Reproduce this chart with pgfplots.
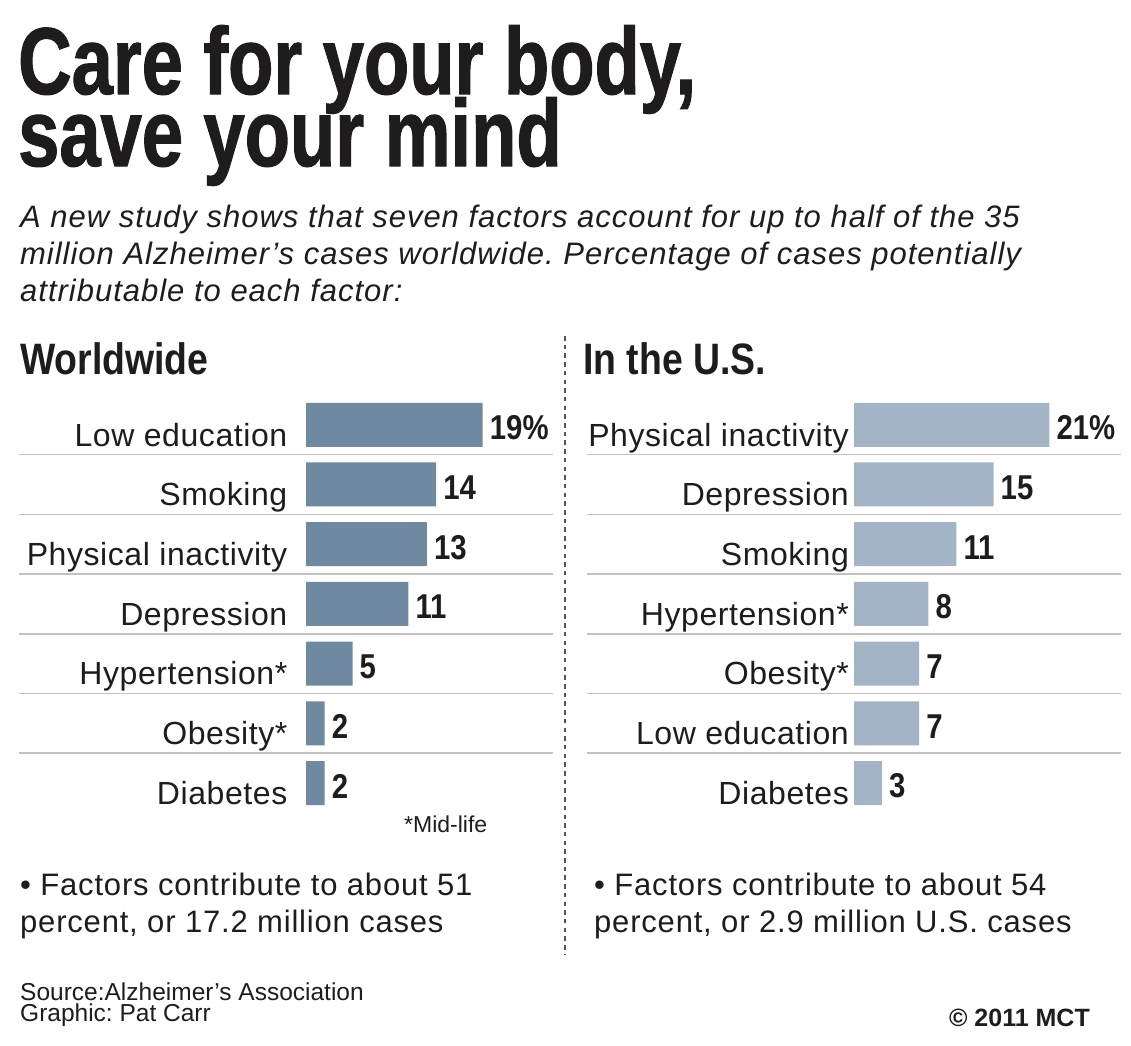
\documentclass[border=0pt]{standalone}
\usepackage{fontspec}
\setmainfont{Liberation Sans}
\newfontfamily\titlefont{Liberation Sans Bold}[FakeStretch=0.78,FakeBold=1.2]
\newfontfamily\condfont{Liberation Sans Bold}[FakeStretch=0.85]
\newfontfamily\subfont{Liberation Sans Italic}[LetterSpace=3.2]
\newfontfamily\bulletfont{Liberation Sans}[LetterSpace=2.6]
\newfontfamily\labelfont{Liberation Sans}[LetterSpace=1.8]
\usepackage{pgfplots}
\pgfplotsset{compat=1.18}
\usepackage{pgfplotstable}
\definecolor{leftbar}{HTML}{6F8AA0}
\definecolor{rightbar}{HTML}{A3B4C6}
\definecolor{sepgray}{HTML}{C2C2C2}
\definecolor{ink}{HTML}{1E1C1D}
\definecolor{dashgray}{HTML}{555555}

\pgfplotstableread{
val y lab
19 0 {19\%}
14 1 14
13 2 13
11 3 11
5 4 5
2 5 2
2 6 2
}\worldtable

\pgfplotstableread{
val y lab
21 0 {21\%}
15 1 15
11 2 11
8 3 8
7 4 7
7 5 7
3 6 3
}\ustable

\pgfplotsset{
  barpanel/.style={
    anchor=south west,
    scale only axis, width=534pt, height=418pt,
    xbar, bar width=44pt,
    ymin=-0.5, ymax=6.5, y dir=reverse,
    axis line style={draw=none},
    xtick=\empty,
    ytick={0,...,6},
    major tick length=0pt,
    minor ytick={0.5,1.5,...,5.5},
    yminorgrids=true,
    minor grid style={sepgray, line width=1.5pt},
    minor tick length=0pt,
    yticklabel style={font=\labelfont\fontsize{32}{32}\selectfont, text=ink, anchor=base east, yshift=-21.3pt, inner sep=0pt},
    nodes near coords,
    point meta=explicit symbolic,
    every node near coord/.append style={font=\condfont\fontsize{34.5}{34.5}\selectfont, text=ink, anchor=west, xshift=7pt, yshift=-3pt, inner sep=0pt},
    clip=false,
  }
}

\begin{document}
\frenchspacing
\begin{tikzpicture}
\fill[white] (0pt,0pt) rectangle (1131pt,-1045pt);
\path[use as bounding box] (0pt,0pt) rectangle (1131pt,-1045pt);

% Title
\node[anchor=base west, inner sep=0pt, text=ink, font=\titlefont\fontsize{95}{95}\selectfont] at (18pt,-94pt) {Care for your body,};
\node[anchor=base west, inner sep=0pt, text=ink, font=\titlefont\fontsize{95}{95}\selectfont] at (18pt,-166pt) {save your mind};

% Subtitle
\node[anchor=base west, inner sep=0pt, text=ink, font=\subfont\fontsize{31}{31}\selectfont] at (20pt,-227.3pt) {A new study shows that seven factors account for up to half of the 35};
\node[anchor=base west, inner sep=0pt, text=ink, font=\subfont\fontsize{31}{31}\selectfont] at (20pt,-264pt) {million Alzheimer’s cases worldwide. Percentage of cases potentially};
\node[anchor=base west, inner sep=0pt, text=ink, font=\subfont\fontsize{31}{31}\selectfont] at (20pt,-301pt) {attributable to each factor:};

% Headings
\node[anchor=base west, inner sep=0pt, text=ink, font=\condfont\fontsize{44}{44}\selectfont] at (20pt,-374pt) {Worldwide};
\node[anchor=base west, inner sep=0pt, text=ink, font=\condfont\fontsize{44}{44}\selectfont] at (583pt,-374pt) {In the U.S.};

% Divider
\draw[dashgray, line width=1.8pt, dash pattern=on 4.5pt off 4.2pt] (565pt,-336pt) -- (565pt,-955pt);

% Worldwide panel
\begin{axis}[barpanel,
  at={(19pt,-812.9pt)},
  xmin=-30.86, xmax=26.56,
  yticklabels={Low education, Smoking, Physical inactivity, Depression, Hypertension*, Obesity*, Diabetes},
  yticklabel style={xshift=268.5pt},
]
\addplot[fill=leftbar, draw=none] table[x=val, y=y, meta=lab] {\worldtable};
\end{axis}

% U.S. panel
\begin{axis}[barpanel,
  at={(587pt,-812.9pt)},
  xmin=-28.71, xmax=28.71,
  yticklabels={Physical inactivity, Depression, Smoking, Hypertension*, Obesity*, Low education, Diabetes},
  yticklabel style={xshift=262pt},
]
\addplot[fill=rightbar, draw=none] table[x=val, y=y, meta=lab] {\ustable};
\end{axis}

\node[anchor=base west, inner sep=0pt, text=ink, font=\fontsize{23}{23}\selectfont] at (404pt,-832.7pt) {*Mid-life};

% Bullets
\node[anchor=base west, inner sep=0pt, text=ink, font=\bulletfont\fontsize{31}{31}\selectfont] at (20pt,-895pt) {• Factors contribute to about 51};
\node[anchor=base west, inner sep=0pt, text=ink, font=\bulletfont\fontsize{31}{31}\selectfont] at (20pt,-932pt) {percent, or 17.2 million cases};
\node[anchor=base west, inner sep=0pt, text=ink, font=\bulletfont\fontsize{31}{31}\selectfont] at (594pt,-895pt) {• Factors contribute to about 54};
\node[anchor=base west, inner sep=0pt, text=ink, font=\bulletfont\fontsize{31}{31}\selectfont] at (594pt,-932pt) {percent, or 2.9 million U.S. cases};

% Source
\node[anchor=base west, inner sep=0pt, text=ink, font=\fontsize{24.5}{24.5}\selectfont] at (20pt,-1000.3pt) {Source:Alzheimer’s Association};
\node[anchor=base west, inner sep=0pt, text=ink, font=\fontsize{24.5}{24.5}\selectfont] at (20pt,-1021.7pt) {Graphic: Pat Carr};
\node[anchor=base east, inner sep=0pt, text=ink, font=\bfseries\fontsize{25}{25}\selectfont] at (1090pt,-1026.7pt) {© 2011 MCT};
\end{tikzpicture}
\end{document}
